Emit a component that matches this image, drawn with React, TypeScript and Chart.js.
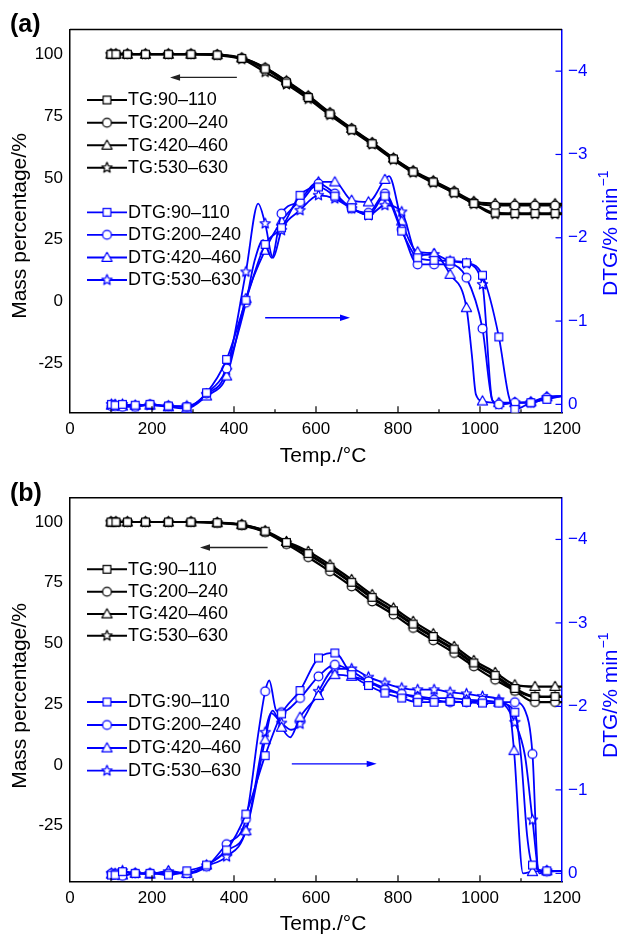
import React, { useEffect, useRef } from 'react';
import { Chart, registerables } from 'chart.js';

Chart.register(...registerables);

const FONT = "'Liberation Sans', Arial, Helvetica, sans-serif";
const BLUE = '#0000ff';
const CW = 617;
const CH = 467;

// ---------- axes / ticks ----------
const X_TICKS = [0, 200, 400, 600, 800, 1000, 1200];
const X_MINOR = [100, 300, 500, 700, 900, 1100];
const Y_TICKS = [-25, 0, 25, 50, 75, 100];
const Y2_TICKS = [0, -1, -2, -3, -4];
const SERIES_LABELS = ['90–110', '200–240', '420–460', '530–630'];

// temperatures at which markers are shown on DTG curves
const DTG_MARKS = [101, 110, 128, 159, 195, 240, 285, 333, 382, 429, 476, 516, 561, 606, 646, 687, 728, 768, 809, 848, 888, 927, 967, 1006, 1046, 1083, 1085, 1124, 1128, 1163];

// ---------- TG temperatures (both panels) ----------
const TG_T = [100, 112, 140, 184, 240, 295, 359, 419, 476, 528, 581, 634, 687, 737, 789, 837, 886, 937, 985, 1037, 1085, 1134, 1183, 1200];

// ---------- panel (a) TG ----------
const A_TG_90 = [100, 100, 100, 100, 100, 100, 99.7, 98.3, 94.0, 88.4, 82.5, 75.8, 69.5, 63.8, 57.6, 52.4, 48.3, 44.0, 39.6, 35.8, 35.6, 35.6, 35.6, 35.6];
const A_TG_200 = [100, 100, 100, 100, 100, 100, 99.7, 98.4, 94.4, 89.0, 82.9, 76.1, 69.8, 64.0, 57.8, 52.6, 48.5, 44.3, 40.0, 38.8, 38.8, 38.8, 38.8, 38.8];
const A_TG_420 = [100, 100, 100, 100, 100, 100, 99.8, 98.5, 94.5, 89.2, 83.2, 76.4, 70.0, 64.3, 58.0, 52.9, 48.8, 44.6, 40.5, 39.6, 39.5, 39.5, 39.5, 39.5];
const A_TG_530 = [100, 100, 100, 100, 100, 100, 99.6, 98.0, 92.8, 87.8, 81.9, 75.4, 69.2, 63.5, 57.3, 52.1, 48.0, 43.8, 39.4, 35.3, 35.3, 35.3, 35.3, 35.3];

// ---------- panel (a) DTG ----------
const A_DTG_90_T = [101, 110, 128, 159, 195, 240, 285, 333, 382, 429, 476, 516, 561, 606, 646, 687, 728, 768, 809, 848, 888, 927, 967, 1006, 1046, 1070, 1085, 1124, 1163, 1200];
const A_DTG_90 = [0, 0.01, 0, 0.01, 0, 0.02, 0.03, -0.14, -0.54, -1.25, -1.92, -2.12, -2.51, -2.61, -2.5, -2.36, -2.27, -2.5, -2.08, -1.76, -1.73, -1.72, -1.7, -1.55, -0.81, -0.1, 0.06, -0.02, -0.06, -0.1];
const A_DTG_200_T = [101, 110, 128, 159, 195, 240, 285, 333, 382, 429, 450, 471, 492, 516, 561, 606, 646, 687, 728, 768, 809, 848, 888, 927, 967, 1006, 1030, 1046, 1085, 1124, 1163, 1200];
const A_DTG_200 = [0.02, 0.02, 0.03, 0.03, 0, 0.02, 0.03, -0.13, -0.43, -1.22, -1.72, -1.97, -1.76, -2.29, -2.43, -2.65, -2.53, -2.35, -2.3, -2.53, -2.1, -1.68, -1.68, -1.68, -1.52, -0.91, -0.05, 0, -0.02, -0.02, -0.08, -0.1];
const A_DTG_420_T = [101, 110, 128, 159, 195, 240, 285, 333, 382, 429, 476, 516, 561, 606, 646, 687, 728, 768, 778, 809, 848, 888, 927, 967, 980, 990, 1006, 1046, 1085, 1124, 1163, 1200];
const A_DTG_420 = [0.01, 0, 0.02, 0.01, 0.01, 0.03, 0.05, -0.1, -0.34, -1.27, -1.85, -2.2, -2.45, -2.67, -2.67, -2.45, -2.43, -2.7, -2.74, -2.2, -1.83, -1.81, -1.56, -1.16, -0.6, -0.12, -0.04, -0.02, -0.02, -0.03, -0.09, -0.1];
const A_DTG_530_T = [101, 110, 128, 159, 195, 240, 285, 333, 382, 429, 459, 476, 495, 516, 561, 606, 646, 687, 728, 768, 809, 848, 888, 927, 967, 1006, 1030, 1046, 1085, 1124, 1163, 1200];
const A_DTG_530 = [0, 0.02, 0, 0.02, 0.01, 0.02, 0.02, -0.12, -0.41, -1.59, -2.41, -2.17, -1.76, -2.09, -2.33, -2.51, -2.47, -2.35, -2.27, -2.39, -2.31, -1.79, -1.8, -1.72, -1.69, -1.44, -0.05, 0, -0.02, -0.02, -0.08, -0.1];

// ---------- panel (b) TG ----------
const B_TG_90 = [100, 100, 100, 100, 100, 100, 99.7, 98.8, 96.2, 91.6, 87.0, 81.4, 75.2, 69.0, 63.5, 58.0, 52.9, 47.7, 42.0, 36.9, 31.5, 28.2, 28.2, 28.2];
const B_TG_200 = [100, 100, 100, 100, 100, 100, 99.6, 98.6, 95.8, 90.9, 85.5, 79.7, 73.5, 67.3, 61.9, 56.4, 51.3, 46.1, 40.6, 35.1, 30.5, 25.9, 25.9, 25.9];
const B_TG_420 = [100, 100, 100, 100, 100, 100, 99.7, 98.9, 96.4, 92.0, 87.9, 82.4, 76.3, 70.1, 64.6, 59.1, 54.0, 48.8, 43.0, 38.1, 33.0, 32.3, 32.3, 32.3];
const B_TG_530 = [100, 100, 100, 100, 100, 100, 99.7, 98.8, 96.0, 91.4, 86.6, 81.0, 74.8, 68.6, 63.1, 57.6, 52.5, 47.3, 41.6, 36.5, 31.0, 28.0, 28.0, 28.0];

// ---------- panel (b) DTG ----------
const B_DTG_90_T = [101, 110, 128, 159, 195, 240, 285, 333, 382, 429, 476, 516, 561, 606, 646, 687, 728, 768, 809, 848, 888, 927, 967, 1006, 1046, 1085, 1100, 1115, 1128, 1163, 1200];
const B_DTG_90 = [0.02, 0.02, -0.02, 0, 0, 0.02, -0.03, -0.1, -0.28, -0.71, -1.41, -1.91, -2.19, -2.58, -2.64, -2.38, -2.25, -2.16, -2.1, -2.05, -2.05, -2.06, -2.05, -2.04, -2.04, -1.93, -1.4, -0.45, -0.1, -0.03, -0.03];
const B_DTG_200_T = [101, 110, 128, 159, 195, 240, 285, 333, 382, 429, 460, 476, 486, 503, 516, 561, 606, 646, 687, 728, 768, 809, 848, 888, 927, 967, 1006, 1046, 1085, 1110, 1128, 1142, 1163, 1200];
const B_DTG_200 = [0, 0.01, 0.03, 0, 0, 0, 0, -0.08, -0.35, -0.65, -1.7, -2.18, -2.31, -1.95, -1.93, -2.1, -2.36, -2.5, -2.42, -2.3, -2.2, -2.15, -2.1, -2.08, -2.05, -2.05, -2.07, -2.05, -2.05, -1.95, -1.43, -0.05, -0.02, -0.03];
const B_DTG_420_T = [101, 110, 128, 159, 195, 240, 285, 333, 382, 429, 476, 494, 516, 537, 561, 606, 646, 687, 728, 768, 809, 848, 888, 927, 967, 1006, 1046, 1070, 1083, 1105, 1128, 1163, 1200];
const B_DTG_420 = [0.01, 0, 0.02, 0, 0.01, -0.03, 0, -0.1, -0.27, -0.51, -1.6, -1.95, -1.75, -1.63, -1.87, -2.13, -2.38, -2.36, -2.3, -2.22, -2.15, -2.12, -2.1, -2.1, -2.08, -2.07, -2.05, -2.0, -1.47, 0, -0.02, -0.03, -0.03];
const B_DTG_530_T = [101, 110, 128, 159, 195, 240, 285, 333, 382, 429, 476, 490, 516, 540, 561, 606, 646, 687, 728, 768, 809, 848, 888, 927, 967, 1006, 1046, 1085, 1110, 1128, 1145, 1163, 1200];
const B_DTG_530 = [0, 0.02, -0.03, 0, 0, -0.02, 0, -0.09, -0.2, -0.51, -1.69, -1.92, -1.8, -1.72, -1.79, -2.18, -2.45, -2.45, -2.35, -2.28, -2.22, -2.2, -2.2, -2.17, -2.15, -2.12, -2.08, -1.81, -1.4, -0.64, 0, -0.03, -0.03];

// ---------- layout of each panel ----------
type Shape = 'rect' | 'circle' | 'triangle' | 'star';
const SHAPES: Shape[] = ['rect', 'circle', 'triangle', 'star'];

interface Arrow { x0: number; x1: number; y: number; color: string; }
interface PanelDef {
  label: string;
  top: number;
  bottom: number;
  yMin: number;
  tg: number[][];
  dtg: { t: number[]; v: number[] }[];
  legendTG: number[];
  legendDTG: number[];
  arrows: Arrow[];
  labelBase: number;
  leftTitleY: number;
  rightTitleStart: number;
  bottomTitleBase: number;
}

const PANEL_A: PanelDef = {
  label: '(a)',
  top: 29.5,
  bottom: 412.7,
  yMin: -45,
  tg: [A_TG_90, A_TG_200, A_TG_420, A_TG_530],
  dtg: [
    { t: A_DTG_90_T, v: A_DTG_90 },
    { t: A_DTG_200_T, v: A_DTG_200 },
    { t: A_DTG_420_T, v: A_DTG_420 },
    { t: A_DTG_530_T, v: A_DTG_530 },
  ],
  legendTG: [100, 122.7, 145.3, 167.7],
  legendDTG: [212.3, 234.8, 257.5, 280],
  arrows: [
    { x0: 407, x1: 244, y: 90.6, color: '#222' },
    { x0: 476, x1: 683, y: -6.6, color: BLUE },
  ],
  labelBase: 32,
  leftTitleY: 226,
  rightTitleStart: 296,
  bottomTitleBase: 462,
};

const PANEL_B: PanelDef = {
  label: '(b)',
  top: 30.7,
  bottom: 414.7,
  yMin: -48,
  tg: [B_TG_90, B_TG_200, B_TG_420, B_TG_530],
  dtg: [
    { t: B_DTG_90_T, v: B_DTG_90 },
    { t: B_DTG_200_T, v: B_DTG_200 },
    { t: B_DTG_420_T, v: B_DTG_420 },
    { t: B_DTG_530_T, v: B_DTG_530 },
  ],
  legendTG: [102.3, 124.7, 147, 168.7],
  legendDTG: [235, 258, 281, 303.7],
  arrows: [
    { x0: 482, x1: 317, y: 89.5, color: '#222' },
    { x0: 541, x1: 748, y: 0.5, color: BLUE },
  ],
  labelBase: 33.5,
  leftTitleY: 229,
  rightTitleStart: 291,
  bottomTitleBase: 463,
};

// ---------- marker images ----------
const markerCache: Record<string, HTMLCanvasElement> = {};
function marker(shape: Shape, color: string): HTMLCanvasElement {
  const key = shape + color;
  if (markerCache[key]) return markerCache[key];
  const s = 15;
  const c = document.createElement('canvas');
  c.width = s;
  c.height = s;
  const g = c.getContext('2d') as CanvasRenderingContext2D;
  g.translate(s / 2, s / 2);
  g.lineWidth = 1.2;
  g.strokeStyle = color;
  g.fillStyle = '#ffffff';
  g.lineJoin = 'round';
  g.beginPath();
  if (shape === 'rect') {
    g.rect(-3.9, -3.9, 7.8, 7.8);
  } else if (shape === 'circle') {
    g.arc(0, 0, 4.4, 0, Math.PI * 2);
  } else if (shape === 'triangle') {
    g.moveTo(0, -5.2);
    g.lineTo(5.1, 3.8);
    g.lineTo(-5.1, 3.8);
    g.closePath();
  } else {
    for (let i = 0; i < 10; i++) {
      const r = i % 2 === 0 ? 5.4 : 2.4;
      const a = -Math.PI / 2 + (i * Math.PI) / 5;
      const x = r * Math.cos(a);
      const y = r * Math.sin(a);
      if (i === 0) g.moveTo(x, y);
      else g.lineTo(x, y);
    }
    g.closePath();
  }
  g.fill();
  g.stroke();
  markerCache[key] = c;
  return c;
}

function decorPlugin(p: PanelDef) {
  return {
    id: 'decor',
    afterDraw(chart: any) {
      const { ctx, chartArea: a, scales } = chart;
      const sx = scales.x;
      const sy = scales.y;
      const sy2 = scales.y2;
      const line = (x0: number, y0: number, x1: number, y1: number) => {
        ctx.beginPath();
        ctx.moveTo(x0, y0);
        ctx.lineTo(x1, y1);
        ctx.stroke();
      };
      ctx.save();
      // top frame line
      ctx.strokeStyle = '#000';
      ctx.lineWidth = 1.5;
      line(a.left, a.top, a.right, a.top);
      // x ticks (inward)
      ctx.lineWidth = 1.2;
      for (const v of X_TICKS) {
        if (v <= sx.min || v >= sx.max) continue;
        const px = sx.getPixelForValue(v);
        line(px, a.bottom, px, a.bottom - 6.5);
      }
      for (const v of X_MINOR) {
        const px = sx.getPixelForValue(v);
        line(px, a.bottom, px, a.bottom - 3.5);
      }
      // right ticks (inward)
      ctx.strokeStyle = BLUE;
      for (const v of Y2_TICKS) {
        const py = sy2.getPixelForValue(v);
        line(a.right, py, a.right - 6.5, py);
      }
      // arrows
      for (const ar of p.arrows) {
        const x0 = sx.getPixelForValue(ar.x0);
        const x1 = sx.getPixelForValue(ar.x1);
        const y = sy.getPixelForValue(ar.y);
        const dir = x1 > x0 ? 1 : -1;
        ctx.strokeStyle = ar.color;
        ctx.fillStyle = ar.color;
        ctx.lineWidth = 1.3;
        line(x0, y, x1 - dir * 6, y);
        ctx.beginPath();
        ctx.moveTo(x1, y);
        ctx.lineTo(x1 - dir * 10, y - 3.2);
        ctx.lineTo(x1 - dir * 10, y + 3.2);
        ctx.closePath();
        ctx.fill();
      }
      // legend
      ctx.font = `18px ${FONT}`;
      ctx.textBaseline = 'middle';
      ctx.textAlign = 'left';
      const drawRow = (y: number, color: string, shape: Shape, text: string, lw: number) => {
        ctx.strokeStyle = color;
        ctx.lineWidth = lw;
        line(87, y, 127, y);
        const m = marker(shape, color);
        ctx.drawImage(m, 107 - m.width / 2, y - m.height / 2);
        ctx.fillStyle = '#000';
        ctx.fillText(text, 128, y + 0.5);
      };
      p.legendTG.forEach((y, i) => drawRow(y, '#000', SHAPES[i], 'TG:' + SERIES_LABELS[i], 2));
      p.legendDTG.forEach((y, i) => drawRow(y, BLUE, SHAPES[i], 'DTG:' + SERIES_LABELS[i], 1.8));
      // panel label
      ctx.fillStyle = '#000';
      ctx.font = `bold 25px ${FONT}`;
      ctx.textBaseline = 'alphabetic';
      ctx.fillText(p.label, 10, p.labelBase);
      // bottom title
      ctx.font = `21px ${FONT}`;
      ctx.textAlign = 'center';
      ctx.fillText('Temp./°C', 323, p.bottomTitleBase);
      // left title
      ctx.save();
      ctx.translate(25.5, p.leftTitleY);
      ctx.rotate(-Math.PI / 2);
      ctx.textAlign = 'center';
      ctx.fillText('Mass percentage/%', 0, 0);
      ctx.restore();
      // right title
      ctx.save();
      ctx.translate(616.5, p.rightTitleStart);
      ctx.rotate(-Math.PI / 2);
      ctx.textAlign = 'left';
      ctx.fillStyle = BLUE;
      ctx.font = `21px ${FONT}`;
      const main = 'DTG/% min';
      ctx.fillText(main, 0, 0);
      const w = ctx.measureText(main).width;
      ctx.font = `14px ${FONT}`;
      ctx.fillText('−1', w + 1, -8.5);
      ctx.restore();
      ctx.restore();
    },
  };
}

function Panel({ p }: { p: PanelDef }) {
  const ref = useRef<HTMLCanvasElement>(null);
  useEffect(() => {
    const canvas = ref.current as HTMLCanvasElement;
    const datasets: any[] = [];
    p.dtg.forEach((s, i) => {
      datasets.push({
        label: 'DTG:' + SERIES_LABELS[i],
        data: s.t.map((t, j) => ({ x: t, y: s.v[j] })),
        yAxisID: 'y2',
        borderColor: BLUE,
        backgroundColor: '#ffffff',
        borderWidth: 1.8,
        pointStyle: marker(SHAPES[i], BLUE),
        pointRadius: (c: any) => (c.raw && DTG_MARKS.includes(c.raw.x) ? 4 : 0),
        pointHoverRadius: 0,
        cubicInterpolationMode: 'monotone',
        fill: false,
      });
    });
    p.tg.forEach((v, i) => {
      datasets.push({
        label: 'TG:' + SERIES_LABELS[i],
        data: TG_T.map((t, j) => ({ x: t, y: v[j] })),
        yAxisID: 'y',
        borderColor: '#000',
        backgroundColor: '#ffffff',
        borderWidth: 2.2,
        pointStyle: marker(SHAPES[i], '#000'),
        pointRadius: (c: any) => (c.raw && c.raw.x < 1200 ? 4 : 0),
        pointHoverRadius: 0,
        cubicInterpolationMode: 'monotone',
        fill: false,
      });
    });
    const tickFont = { family: FONT, size: 17 };
    const chart = new Chart(canvas, {
      type: 'line',
      data: { datasets },
      options: {
        animation: false,
        responsive: false,
        devicePixelRatio: 1,
        events: [],
        layout: { padding: { top: p.top, left: 0, right: 0, bottom: 0 } },
        plugins: {
          legend: { display: false },
          tooltip: { enabled: false },
          title: { display: false },
        },
        scales: {
          x: {
            type: 'linear',
            position: 'bottom',
            min: 0,
            max: 1200,
            grid: { display: false, drawTicks: false },
            border: { display: true, color: '#000', width: 1.5 },
            ticks: {
              font: tickFont,
              color: '#000',
              padding: 6,
              autoSkip: false,
              maxRotation: 0,
              callback: (v: any) => String(v),
            },
            afterBuildTicks: (s: any) => {
              s.ticks = X_TICKS.map((v) => ({ value: v }));
            },
            afterFit: (s: any) => {
              s.height = CH - p.bottom;
            },
          },
          y: {
            type: 'linear',
            position: 'left',
            min: p.yMin,
            max: 110,
            grid: { display: false, drawTicks: false },
            border: { display: true, color: '#000', width: 1.5 },
            ticks: {
              font: tickFont,
              color: '#000',
              padding: 7,
              callback: (v: any) => (v < 0 ? '-' + Math.abs(v) : String(v)),
            },
            afterBuildTicks: (s: any) => {
              s.ticks = Y_TICKS.map((v) => ({ value: v }));
            },
            afterFit: (s: any) => {
              s.width = 70;
            },
          },
          y2: {
            type: 'linear',
            position: 'right',
            min: -4.5,
            max: 0.1,
            reverse: true,
            grid: { display: false, drawTicks: false },
            border: { display: true, color: BLUE, width: 1.5 },
            ticks: {
              font: tickFont,
              color: BLUE,
              padding: 6,
              callback: (v: any) => (v === 0 ? '0' : '−' + Math.abs(v)),
            },
            afterBuildTicks: (s: any) => {
              s.ticks = Y2_TICKS.map((v) => ({ value: v }));
            },
            afterFit: (s: any) => {
              s.width = CW - 562;
            },
          },
        },
      } as any,
      plugins: [decorPlugin(p)],
    });
    return () => chart.destroy();
  }, [p]);
  return <canvas ref={ref} width={CW} height={CH} style={{ display: 'block', width: CW, height: CH }} />;
}

export default function App() {
  return (
    <div style={{ position: 'absolute', left: 0, top: 0, width: CW, height: CH * 2, background: '#ffffff' }}>
      <Panel p={PANEL_A} />
      <Panel p={PANEL_B} />
    </div>
  );
}
